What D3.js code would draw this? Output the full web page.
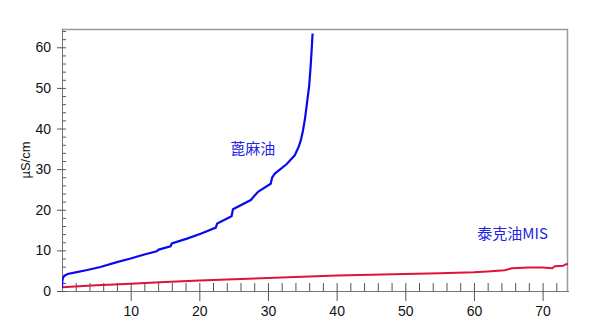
<!DOCTYPE html>
<html>
<head>
<meta charset="utf-8">
<script src="https://cdn.jsdelivr.net/npm/d3@7"></script>
<style>
  body { margin: 0; background: #fff; }
  .tick text { font-family: Arial, "Liberation Sans", sans-serif; font-size: 14px; fill: #111; }
</style>
</head>
<body>
<div class="chart"></div>
<script>
// conductivity curves
var castorX = [0, 0.05, 0.15, 0.4, 0.8, 2, 3.5, 5.6, 8, 10, 12, 13.8, 14.1, 15.8, 16.0, 18.2, 20.2,
  22.4, 22.6, 24.7, 24.9, 27.5, 28.0, 28.6, 30.4, 30.6, 31.0, 32.7, 33.9, 34.5, 34.8, 35.1, 35.4, 35.7,
  36.0, 36.2, 36.35, 36.5];
var castorY = [0.9, 2.5, 3.3, 3.8, 4.2, 4.6, 5.1, 5.9, 7.1, 8.0, 9.0, 9.8, 10.2, 11.0, 11.7, 12.9, 14.1,
  15.6, 16.6, 18.4, 20.1, 22.4, 23.4, 24.5, 26.4, 27.9, 28.9, 31.2, 33.4, 35.6, 37.2, 39.5, 42.5, 46.5,
  50.5, 55.0, 59.0, 63.4];

var misX = [0, 5, 10, 15, 20, 25, 30, 35, 40, 45, 50, 55, 60, 62, 64.5, 65.5, 68, 70, 71.4, 71.8, 73, 73.4, 73.7];
var misY = [0.9, 1.4, 1.8, 2.2, 2.6, 2.9, 3.2, 3.5, 3.8, 4.0, 4.2, 4.4, 4.6, 4.8, 5.1, 5.6, 5.8, 5.8, 5.6, 6.1, 6.2, 6.6, 6.6];

var xTicks = [10, 20, 30, 40, 50, 60, 70];
var yTicks = [0, 10, 20, 30, 40, 50, 60];

var svgWidth = 600;
var svgHeight = 321;

var margin = { top: 29, right: 32, bottom: 30, left: 62 };
var width = svgWidth - margin.left - margin.right;
var height = svgHeight - margin.top - margin.bottom;

var svg = d3.select(".chart")
  .append("svg")
  .attr("width", svgWidth)
  .attr("height", svgHeight);

var chartGroup = svg.append("g")
  .attr("transform", `translate(${margin.left}, ${margin.top})`);

var xScale = d3.scaleLinear().domain([0, 73.7]).range([0, width]);
var yScale = d3.scaleLinear().domain([0, 64.5]).range([height, 0]);

// frame (top and right)
chartGroup.append("path")
  .attr("d", `M0,0.5H${width - 0.5}V${height}`)
  .attr("fill", "none")
  .attr("stroke", "#9a9a9a")
  .attr("stroke-width", 1.5);

// minor ticks every 2
var xMinor = d3.range(2, 74, 2).filter(d => d % 10 != 0);
var yMinor = d3.range(2, 65, 2).filter(d => d % 10 != 0);

var xAxis = chartGroup.append("g")
  .attr("transform", `translate(0, ${height})`);
xAxis.call(d3.axisBottom(xScale).tickValues(xMinor).tickSize(-8).tickSizeOuter(0).tickFormat(""));
xAxis.call(g => g.selectAll(".tick line").attr("stroke", "#555"));
var xMajor = chartGroup.append("g")
  .attr("transform", `translate(0, ${height})`)
  .call(d3.axisBottom(xScale).tickValues(xTicks).tickSize(10).tickSizeOuter(0).tickPadding(5));
xMajor.selectAll(".tick line").attr("stroke", "#555").attr("y1", -8);
xMajor.select(".domain").attr("stroke", "#777");

var yAxis = chartGroup.append("g");
yAxis.call(d3.axisLeft(yScale).tickValues(yMinor).tickSize(-4).tickSizeOuter(0).tickFormat(""));
yAxis.selectAll(".tick line").attr("stroke", "#555");
var yMajor = chartGroup.append("g")
  .call(d3.axisLeft(yScale).tickValues(yTicks).tickSize(5).tickSizeOuter(0).tickPadding(6));
yMajor.selectAll(".tick line").attr("stroke", "#555").attr("x2", -5).attr("x1", 4);
yMajor.select(".domain").attr("stroke", "#777");

// y axis label
chartGroup.append("text")
  .attr("transform", "rotate(-90)")
  .attr("x", -(131))
  .attr("y", -32)
  .attr("text-anchor", "middle")
  .attr("font-family", "Arial, 'Liberation Sans', sans-serif")
  .attr("font-size", 13)
  .attr("fill", "#111")
  .text("µS/cm");

var line = d3.line()
  .x(d => xScale(d[0]))
  .y(d => yScale(d[1]));

var clip = chartGroup.append("clipPath").attr("id", "plotclip")
  .append("rect").attr("width", width).attr("height", height);

chartGroup.append("path")
  .datum(misX.map((x, i) => [x, misY[i]]))
  .attr("d", line)
  .attr("clip-path", "url(#plotclip)")
  .attr("fill", "none")
  .attr("stroke", "#e0123c")
  .attr("stroke-width", 2);

chartGroup.append("path")
  .datum(castorX.map((x, i) => [x, castorY[i]]))
  .attr("d", line)
  .attr("clip-path", "url(#plotclip)")
  .attr("fill", "none")
  .attr("stroke", "#0a0af0")
  .attr("stroke-width", 2.2);

// curve labels
var labelFont = "'Noto Sans CJK SC', 'Microsoft YaHei', sans-serif";
chartGroup.append("text")
  .attr("x", xScale(24.5))
  .attr("y", yScale(33.8))
  .attr("font-family", labelFont)
  .attr("font-size", 15)
  .attr("fill", "#2323e3")
  .text("蓖麻油");

chartGroup.append("text")
  .attr("x", xScale(60.5))
  .attr("y", yScale(12.8))
  .attr("font-family", labelFont)
  .attr("font-size", 15)
  .attr("fill", "#2323e3")
  .text("泰克油MIS");
</script>
</body>
</html>
